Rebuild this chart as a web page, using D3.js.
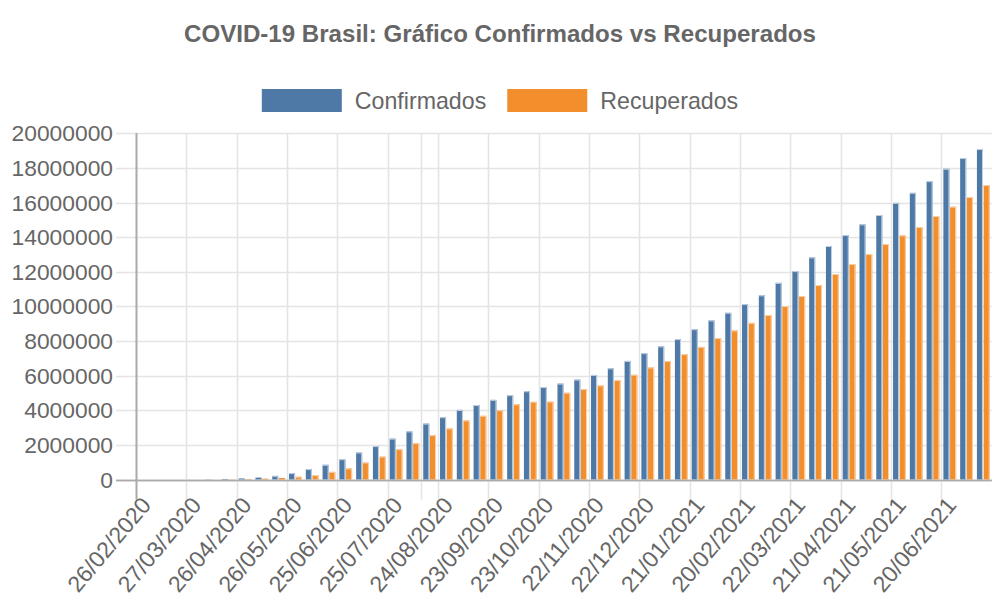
<!DOCTYPE html>
<html>
<head>
<meta charset="utf-8">
<script src="https://cdn.jsdelivr.net/npm/d3@7"></script>
<style>
  html, body { margin: 0; padding: 0; background: #fff; }
  svg { display: block; font-family: "Liberation Sans", Arial, Helvetica, sans-serif; }
</style>
</head>
<body>
<svg id="chart" width="1000" height="600"></svg>
<script>
// ---- Data ----
const title = "COVID-19 Brasil: Gráfico Confirmados vs Recuperados";
const seriesNames = ["Confirmados", "Recuperados"];
const seriesColors = ["#4e79a7", "#f28e2b"];
const seriesRims = ["#c3d2e3", "#f9d2ad"];

const categories = [
  "26/02/2020","07/03/2020","17/03/2020","27/03/2020","06/04/2020","16/04/2020",
  "26/04/2020","06/05/2020","16/05/2020","26/05/2020","05/06/2020","15/06/2020",
  "25/06/2020","05/07/2020","15/07/2020","25/07/2020","04/08/2020","14/08/2020",
  "24/08/2020","03/09/2020","13/09/2020","23/09/2020","03/10/2020","13/10/2020",
  "23/10/2020","02/11/2020","12/11/2020","22/11/2020","02/12/2020","12/12/2020",
  "22/12/2020","01/01/2021","11/01/2021","21/01/2021","31/01/2021","10/02/2021",
  "20/02/2021","02/03/2021","12/03/2021","22/03/2021","01/04/2021","11/04/2021",
  "21/04/2021","01/05/2021","11/05/2021","21/05/2021","31/05/2021","10/06/2021",
  "20/06/2021","30/06/2021","10/07/2021"
];

const confirmados = [
  1, 19, 300, 3400, 12000, 30000, 60000, 110000, 210000, 370000, 600000, 850000,
  1170000, 1560000, 1930000, 2360000, 2780000, 3230000, 3600000, 4020000, 4300000, 4600000,
  4870000, 5100000, 5340000, 5540000, 5770000, 6040000, 6420000, 6850000, 7300000, 7690000,
  8110000, 8680000, 9190000, 9630000, 10130000, 10640000, 11360000, 12040000, 12830000, 13490000,
  14120000, 14740000, 15280000, 15980000, 16560000, 17230000, 17950000, 18570000, 19090000
];

const recuperados = [
  0, 0, 0, 100, 500, 14000, 26000, 50000, 90000, 160000, 250000, 440000,
  640000, 980000, 1320000, 1750000, 2100000, 2560000, 2950000, 3410000, 3680000, 4000000,
  4340000, 4490000, 4500000, 5010000, 5220000, 5430000, 5740000, 6050000, 6470000, 6840000,
  7240000, 7660000, 8170000, 8610000, 9050000, 9500000, 10020000, 10600000, 11230000, 11870000,
  12450000, 13020000, 13600000, 14100000, 14580000, 15220000, 15760000, 16320000, 17010000
];

const yTicks = [0, 2000000, 4000000, 6000000, 8000000, 10000000, 12000000, 14000000, 16000000, 18000000, 20000000];
const xTickLabels = [
  "26/02/2020","27/03/2020","26/04/2020","26/05/2020","25/06/2020","25/07/2020",
  "24/08/2020","23/09/2020","23/10/2020","22/11/2020","22/12/2020","21/01/2021",
  "20/02/2021","22/03/2021","21/04/2021","21/05/2021","20/06/2021"
];
const extraGridCategories = ["14/08/2020"];

// ---- Layout ----
const W = 1000, H = 600;
const area = { left: 136, right: 991.7, top: 133.3, bottom: 479.5 };
const textColor = "#666";
const gridColor = "#e4e4e4";
const axisColor = "#aaaaaa";

const svg = d3.select("#chart");

const x0 = d3.scaleBand().domain(categories).range([area.left, area.right]).padding(0);
const x1 = d3.scaleBand().domain(seriesNames)
  .range([x0.bandwidth() * 0.1, x0.bandwidth() * 0.9]).padding(0);
const y = d3.scaleLinear().domain([0, 20000000]).range([area.bottom, area.top]);

// Title
svg.append("text")
  .attr("x", W / 2).attr("y", 33)
  .attr("text-anchor", "middle").attr("dominant-baseline", "central")
  .attr("font-size", 24.1).attr("font-weight", "bold").attr("fill", textColor)
  .text(title);

// Legend
const legendItems = seriesNames.map((n, i) => ({ name: n, color: seriesColors[i] }));
const legendFont = 23.2;
const boxW = 80, boxH = 23, gapBoxText = 13, gapItems = 21;
const tmp = svg.append("text").attr("font-size", legendFont).attr("visibility", "hidden");
const widths = legendItems.map(d => { tmp.text(d.name); return tmp.node().getComputedTextLength(); });
tmp.remove();
const totalW = d3.sum(widths.map(w => boxW + gapBoxText + w)) + gapItems * (legendItems.length - 1);
let lx = W / 2 - totalW / 2;
const legend = svg.append("g");
legendItems.forEach((d, i) => {
  legend.append("rect").attr("x", lx).attr("y", 89).attr("width", boxW).attr("height", boxH)
    .attr("fill", d.color);
  legend.append("text").attr("x", lx + boxW + gapBoxText).attr("y", 101)
    .attr("dominant-baseline", "central").attr("font-size", legendFont).attr("fill", textColor)
    .text(d.name);
  lx += boxW + gapBoxText + widths[i] + gapItems;
});

// Horizontal grid + y labels
const gy = svg.append("g");
yTicks.forEach(t => {
  const yy = Math.round(y(t)) + 0.5;
  gy.append("line").attr("x1", area.left - 20).attr("x2", area.right)
    .attr("y1", yy).attr("y2", yy)
    .attr("stroke", t === 0 ? axisColor : gridColor).attr("stroke-width", 1.6);
  gy.append("text").attr("x", area.left - 23).attr("y", y(t))
    .attr("text-anchor", "end").attr("dominant-baseline", "central")
    .attr("font-size", 22.8).attr("fill", textColor)
    .text(String(t));
});

// Vertical grid lines at tick categories (band left edges)
const gx = svg.append("g");
const gridCats = xTickLabels.concat(extraGridCategories);
gridCats.forEach(c => {
  const xx = Math.round(x0(c)) + 0.5;
  const isAxis = c === categories[0];
  gx.append("line").attr("x1", xx).attr("x2", xx)
    .attr("y1", area.top).attr("y2", area.bottom + 20)
    .attr("stroke", isAxis ? axisColor : gridColor).attr("stroke-width", 1.6);
});

// X labels rotated
const gl = svg.append("g");
xTickLabels.forEach(c => {
  const xx = x0(c) + 10;
  gl.append("text")
    .attr("transform", `translate(${xx},${area.bottom + 21}) rotate(-50)`)
    .attr("text-anchor", "end").attr("dominant-baseline", "central")
    .attr("font-size", 23).attr("fill", textColor)
    .text(c);
});

// Bars
const seriesData = [confirmados, recuperados];
const barW = x1.bandwidth() * 0.9;
const gb = svg.append("g");
seriesNames.forEach((name, si) => {
  const vals = seriesData[si];
  const g = gb.append("g");
  categories.forEach((c, i) => {
    const v = vals[i];
    const bx = x0(c) + x1(name) + (x1.bandwidth() - barW) / 2;
    const by = y(v);
    const bh = y(0) - by;
    if (bh <= 0) return;
    g.append("rect").attr("x", bx).attr("y", by).attr("width", barW).attr("height", bh)
      .attr("fill", seriesColors[si]);
    if (bh > 2) {
      g.append("path")
        .attr("d", `M${bx},${by + 0.5} H${bx + barW - 0.5} V${y(0)}`)
        .attr("fill", "none").attr("stroke", seriesRims[si]).attr("stroke-width", 1);
    }
  });
});
// axis lines on top of bars
svg.append("line").attr("x1", area.left - 20).attr("x2", area.right)
  .attr("y1", Math.round(y(0)) + 0.5).attr("y2", Math.round(y(0)) + 0.5)
  .attr("stroke", axisColor).attr("stroke-width", 1.6);
svg.append("line").attr("x1", Math.round(area.left) + 0.5).attr("x2", Math.round(area.left) + 0.5)
  .attr("y1", area.top).attr("y2", area.bottom + 20)
  .attr("stroke", axisColor).attr("stroke-width", 1.6);
</script>
</body>
</html>
